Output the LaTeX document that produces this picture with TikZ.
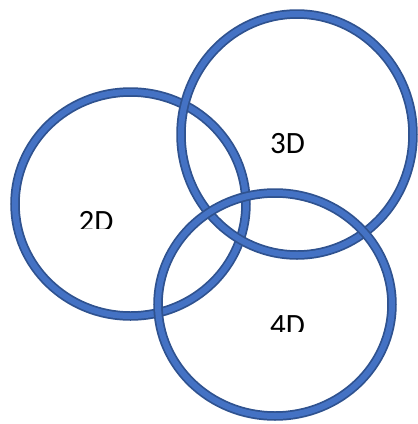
\documentclass[tikz,border=0pt]{standalone}
\usepackage{fontspec}
\setmainfont{Carlito}
\usetikzlibrary{shapes.geometric}
\definecolor{ringdark}{HTML}{2F528F}
\definecolor{ringlight}{HTML}{4472C4}
\begin{document}
\begin{tikzpicture}[x=1pt,y=-1pt,
  ring/.style={ellipse, draw=ringdark, line width=1.75pt, double=ringlight, double distance=6pt, inner sep=0pt, outer sep=0pt},
  lbl/.style={font=\fontsize{31}{31}\selectfont, anchor=base, inner sep=0pt, text=black}]
\useasboundingbox (0,0) rectangle (418,424);
\node[ring, minimum width=231pt, minimum height=224pt] (c2) at (130.5,204) {};
\node[ring, minimum width=232pt, minimum height=241pt] (c3) at (297,134.5) {};
\node[ring, minimum width=234pt, minimum height=223pt] (c4) at (275,304.5) {};
\begin{scope}
  \clip (50,190) rectangle (150,228);
  \node[lbl] (t2) at (96,231) {2D};
\end{scope}
\node[lbl] (t3) at (287.5,153) {3D};
\begin{scope}
  \clip (240,290) rectangle (340,331.5);
  \node[lbl] (t4) at (287.5,335) {4D};
\end{scope}
\end{tikzpicture}
\end{document}
